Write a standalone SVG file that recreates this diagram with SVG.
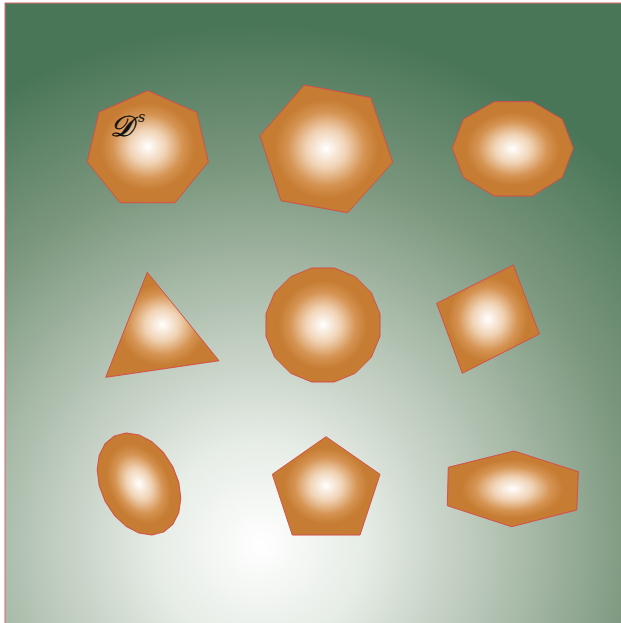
<svg xmlns="http://www.w3.org/2000/svg" width="621" height="623" viewBox="0 0 621 623">
<defs>
<radialGradient id="bg" gradientUnits="userSpaceOnUse" cx="260" cy="545" r="520">
<stop offset="0" stop-color="#ffffff"/>
<stop offset="0.2" stop-color="#e6ece6"/>
<stop offset="0.5" stop-color="#abbcab"/>
<stop offset="0.72" stop-color="#7c987f"/>
<stop offset="1" stop-color="#4a7658"/>
</radialGradient>
<radialGradient id="sg" cx="0.5" cy="0.5" r="0.5">
<stop offset="0" stop-color="#ffffff"/>
<stop offset="0.3" stop-color="#f0d3b5"/>
<stop offset="0.58" stop-color="#d59352"/>
<stop offset="0.78" stop-color="#c67c32"/>
<stop offset="1" stop-color="#c67c32"/>
</radialGradient>
<style>
.s{fill:url(#sg);stroke:#d44f4a;stroke-width:1;stroke-linejoin:round}
.lbl{font-family:"DejaVu Serif","Liberation Serif",serif;font-style:italic;fill:#111111}
</style>
</defs>
<rect x="5" y="3" width="620" height="625" fill="url(#bg)" stroke="#d86a6a" stroke-width="1"/>
<g id="n1"><polygon class="s" points="147.7,90.7 196.7,112.3 208.3,161.7 175,202.7 120,202.7 87.3,161.7 99,112.3"/>
<text class="lbl" x="110" y="136" font-size="29" stroke="#111111" stroke-width="0.6">𝒟</text><text class="lbl" x="138" y="122" font-size="14">s</text></g>
<g id="n2"><polygon class="s" points="304.3,85 370.7,97.7 392.7,162.3 347.7,212.7 281,200.7 260,135.7"/></g>
<g id="n3"><polygon class="s" points="494.3,101.7 532.3,101.7 562.3,119.3 573.3,148.3 562.3,177.3 532.3,196 494.3,196 463.3,177.3 452.3,148.3 463.3,119.3"/></g>
<g id="n4"><polygon class="s" points="147.3,272.3 219,360.7 105.7,377.3"/></g>
<g id="n5"><polygon class="s" points="379.98,313.66 371.31,292.72 355.28,276.69 334.34,268.02 311.66,268.02 290.72,276.69 274.69,292.72 266.02,313.66 266.02,336.34 274.69,357.28 290.72,373.31 311.66,381.98 334.34,381.98 355.28,373.31 371.31,357.28 379.98,336.34"/></g>
<g id="n6"><polygon class="s" points="513.3,265 539.3,334 462.3,373.3 436.7,303.3"/></g>
<g id="n7"><polygon class="s" transform="translate(139,484) rotate(-27)" points="38,0 36.14,16.7 30.74,31.75 22.34,43.69 11.74,51.36 0,54 -11.74,51.36 -22.34,43.69 -30.74,31.75 -36.14,16.7 -38,0 -36.14,-16.7 -30.74,-31.75 -22.34,-43.69 -11.74,-51.36 0,-54 11.74,-51.36 22.34,-43.69 30.74,-31.75 36.14,-16.7"/></g>
<g id="n8"><polygon class="s" points="326,436.7 380,474.3 360,535 292.3,535 272.3,474.3"/></g>
<g id="n9"><polygon class="s" points="514,451 578.3,471.7 576.7,510 511.7,526.7 447.3,505.7 448.3,467.3"/></g>
<g id="connectors"/>
</svg>
